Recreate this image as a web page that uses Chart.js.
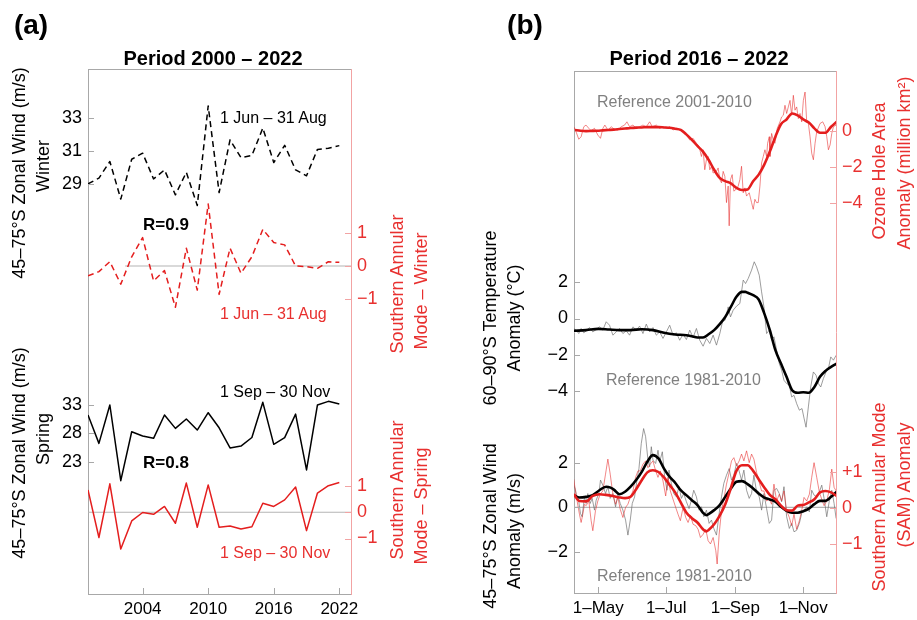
<!DOCTYPE html>
<html><head><meta charset="utf-8">
<script src="https://cdn.jsdelivr.net/npm/chart.js@4.4.1/dist/chart.umd.min.js"></script>
<style>
html,body{margin:0;padding:0;background:#fff}
body{width:917px;height:620px;position:relative;overflow:hidden;font-family:"Liberation Sans",Arial,sans-serif}
canvas{position:absolute;top:0}
.t{position:absolute;white-space:nowrap;line-height:1}
.c{transform:translate(-50%,-50%)}
.l{transform:translate(0,-50%)}
.r{transform:translate(-50%,-50%) rotate(-90deg)}
</style></head><body>
<canvas id="ca" width="458" height="620" style="left:0"></canvas>
<canvas id="cb" width="459" height="620" style="left:458px"></canvas>
<div id="txt"></div>
<script>
// ---------------- Panel (a) data ----------------
const years = [1999,2000,2001,2002,2003,2004,2005,2006,2007,2008,2009,2010,2011,2012,2013,2014,2015,2016,2017,2018,2019,2020,2021,2022];
const windWinter = [29.0,29.35,30.36,28.07,30.5,30.87,29.3,29.85,28.33,29.7,27.68,33.75,28.47,31.68,30.6,30.73,32.4,30.3,31.35,29.85,29.49,31.1,31.17,31.33];
const samWinter = [-0.30,-0.17,0.13,-0.55,0.28,0.86,-0.45,-0.14,-1.25,0.54,-0.73,1.88,-0.86,0.54,-0.22,0.28,1.11,0.71,0.64,0.0,-0.02,-0.07,0.13,0.11];
const windSpring = [31.25,26.27,33.0,19.73,28.3,27.56,27.15,31.25,28.9,30.54,28.6,31.65,29.0,25.46,25.8,27.3,33.47,26.1,27.27,31.4,21.6,33.0,33.64,33.18];
const samSpring = [0.85,-0.96,1.08,-1.40,-0.33,-0.01,-0.08,0.22,-0.42,1.11,-0.57,1.04,-0.57,-0.52,-0.64,-0.55,0.34,0.22,0.47,0.96,-0.70,0.73,1.01,1.13];
const yearTicks = [2004,2010,2016,2022];
const windWinterTicks = [29,31,33];
const windSpringTicks = [23,28,33];
const samTicksA = [-1,0,1];

// ---------------- Panel (b) data (day of year) ----------------
const ozoneSmoothDays = [100,105,110,115,120,125,130,135,140,145,150,155,160,165,170,175,180,185,190,195,200,205,210,215,220,225,230,235,240,245,250,255,260,265,270,275,280,285,290,295,300,305,310,315,320,325,330,335];
const ozoneSmooth = [0.04,0.0,-0.02,-0.01,0.0,0.02,0.04,0.06,0.09,0.12,0.15,0.17,0.18,0.2,0.2,0.2,0.18,0.16,0.11,0.05,-0.2,-0.5,-0.84,-1.15,-1.6,-2.15,-2.6,-2.78,-2.9,-3.15,-3.27,-3.24,-2.78,-2.42,-1.87,-1.15,-0.33,0.36,0.62,0.95,0.85,0.62,0.45,0.13,-0.11,-0.11,0.22,0.49];
const ozoneDailyDays = [99,101,103.5,105.6,108,110,112.5,114.6,117.6,120.6,123,125.1,126.9,129.6,132.6,135.6,138.6,141.6,144.6,146.7,149.1,152.1,155.1,158.1,161.1,164.1,167.1,169.5,173.1,176.1,179.1,182.1,185.1,188.1,191.1,194.1,197.1,200.1,203.1,206.1,209.1,211.5,213.6,215.1,216.6,218.1,219.6,221.1,222.6,224.1,227.1,228.6,230.1,231.6,233.1,234.6,236.1,237.6,238.5,239.7,241.2,242.7,244.5,246.6,248.1,249.6,251.1,252.6,254.1,256.5,258.6,260.1,261.6,263.1,264.6,266.1,267.6,269.1,270.6,272.1,273,274.5,275.1,276.6,278.1,279.6,281.7,284.1,285.6,287.1,288.6,290.1,291.6,293.1,294.6,296.1,297.6,299.1,300.6,302.1,303.6,305.1,306.6,308.1,309.6,311.1,312.6,314.1,315.6,317.1,320.1,322.5,324.6,326.1,327.6,329.1,330.6,332.1,334.5];
const ozoneDaily = [0.22,-0.05,-0.47,-0.33,0.22,0.31,0.13,0,0.13,-0.24,-0.42,0.13,0.31,0.04,0.22,0.07,0.04,0.22,0.31,0.49,0.22,0.31,0.13,0.22,0.31,0.22,0.49,0.22,0.31,0.13,0.22,0.13,0.22,0.04,0.13,0.04,-0.05,-0.24,-0.51,-0.42,-0.69,-0.87,-1.42,-1.05,-2.15,-1.6,-1.42,-2.15,-1.96,-2.33,-2.24,-2.05,-2.69,-2.87,-2.24,-2.51,-3.96,-3.05,-5.24,-2.69,-2.42,-3.33,-3.24,-3.05,-2.69,-1.96,-3.42,-3.15,-3.6,-3.42,-3.96,-4.33,-3.78,-3.96,-3.96,-3.05,-1.78,-1.42,-1.05,-1.42,-0.69,-0.33,-1.42,-0.15,-0.51,-0.69,0.13,0.49,0.76,0.85,1.4,0.95,1.31,1.67,0.85,1.95,1.13,1.31,0.67,0.95,0.49,1.67,2.13,0.49,0.4,-0.33,-1.24,-1.6,-0.69,-0.05,0.4,0.49,0.22,-0.33,-1.05,-0.78,-0.15,0.22,0.31];

const tempSmoothDays = [99,110,121,131,140,150,160,170,180,190,200,205,210,215,220,225,230,235,240,245,250,253,255,260,265,270,275,280,285,290,295,300,305,310,315,320,325,330,335];
const tempSmooth = [-0.68,-0.64,-0.57,-0.61,-0.64,-0.64,-0.59,-0.64,-0.79,-0.88,-0.92,-0.98,-1.05,-1.05,-0.87,-0.64,-0.31,0.09,0.64,1.2,1.47,1.47,1.42,1.29,1.05,0.28,-0.64,-1.75,-2.49,-3.22,-3.96,-4.1,-4.07,-4.1,-3.78,-3.22,-2.89,-2.67,-2.49];
const tempDailyDays = [99,101.1,103.5,105.6,108,110.1,113.1,116.1,119.1,122.1,125.1,128.1,131.1,134.1,137.1,140.1,143.1,146.1,149.1,152.1,155.1,158.1,161.1,164.1,167.1,170.1,173.1,176.1,179.1,182.1,185.1,188.1,191.1,194.1,197.1,200.1,203.1,206.1,209.1,212.1,215.1,218.1,221.1,224.1,227.1,230.1,232.5,234.9,237.6,239.7,242.1,245.1,248.1,251.1,253.2,255.6,258.6,261,263.1,265.5,267.6,269.7,272.1,274.5,276.6,278.7,281.1,283.5,285.6,287.7,290.1,292.5,294.6,296.7,299.1,301.5,303.9,305.7,307.5,309.6,311.7,314.1,316.5,318.6,320.7,323.1,325.5,327.9,329.7,332.1,334.5];
const tempDaily = [-0.55,-0.64,-0.83,-0.55,-0.79,-0.68,-0.50,-0.74,-0.61,-0.46,-0.64,-0.18,-0.37,-0.92,-0.74,-0.55,-0.83,-0.68,-0.92,-0.46,-0.64,-0.42,-0.83,-0.31,-0.74,-0.50,-0.92,-0.74,-1.10,-0.74,-0.37,-0.92,-0.79,-1.20,-0.87,-1.16,-0.64,-1.05,-0.55,-1.20,-1.53,-1.10,-1.38,-0.92,-1.47,-0.83,-0.18,-0.09,0.64,0.09,0.46,0.68,0.83,2.12,1.93,2.21,2.67,3.13,2.85,2.39,1.47,0.64,-0.83,-0.64,-1.20,-1.01,-1.75,-2.49,-2.85,-3.41,-3.59,-3.68,-4.33,-4.24,-4.70,-5.06,-4.97,-5.5,-6.0,-4.88,-3.78,-2.95,-3.13,-3.59,-3.78,-3.31,-2.95,-2.67,-2.12,-2.30,-2.03];

const windSmoothDays = [99,104,110,116,122,128,132,135,140,145,150,155,160,165,170,175,180,185,190,195,200,205,210,215,218,220,225,230,235,240,245,250,255,260,265,270,275,280,285,290,295,300,305,310,315,320,325,330,335];
const windSmooth = [0.56,0.45,0.48,0.56,0.78,0.94,0.9,0.81,0.6,0.71,0.94,1.24,1.61,2.07,2.37,2.22,1.76,1.39,1.12,0.78,0.56,0.33,0.11,-0.24,-0.35,-0.3,-0.12,0.11,0.48,0.86,1.16,1.19,1.06,0.86,0.63,0.45,0.36,0.26,0.03,-0.15,-0.24,-0.24,-0.17,-0.05,0.15,0.3,0.3,0.48,0.71];
const windDailyDays = [99,100.5,101.7,103.5,105,106.5,108.6,110.1,111.6,113.7,115.5,117.6,119.1,121.5,123,125.1,127.5,129.6,131.7,134.1,136.5,138.6,140.7,143.1,145.5,147.6,149.7,151.5,153.6,155.7,157.5,159.6,161.7,163.5,165.6,167.1,168.6,170.1,172.5,174.6,176.1,178.5,180.6,182.7,184.5,186.6,188.7,191.1,193.5,195.6,197.7,200.1,202.5,204.6,206.7,209.1,211.5,213.6,215.7,218.1,220.5,222.6,224.7,227.1,229.5,231.6,233.7,236.1,238.5,240.6,242.7,245.1,247.2,249.6,251.7,254.1,256.5,258.6,260.7,263.1,265.5,267.6,269.7,272.1,274.5,276.6,278.7,281.1,283.5,285.6,287.7,290.1,292.5,294.6,296.7,299.1,301.5,303.6,305.7,308.1,310.5,312.6,314.7,317.1,319.5,321.6,323.7,326.1,328.5,330.6,332.7,334.5];
const windDaily = [1.01,0.81,0.45,0.26,-0.27,-0.42,0.48,0.18,0.63,0.18,0.41,-0.12,0.33,0.63,1.24,1.01,0.63,0.94,0.41,0.63,0.03,0.56,0.18,-0.12,-0.57,-1.25,-0.57,0.18,0.48,1.24,1.76,2.90,3.57,3.20,2.14,1.84,2.75,2.14,1.99,2.59,2.07,2.52,1.39,0.78,1.69,1.09,0.63,0.48,0.94,0.41,0.63,0.26,-0.05,0.33,0.78,0.48,-0.12,0.03,-0.42,-0.12,-0.72,-0.57,-0.95,-1.25,-0.27,0.48,1.09,1.46,1.76,1.24,1.46,1.99,1.69,1.24,1.69,0.78,0.41,0.63,1.46,0.71,0.48,-0.12,0.63,-0.05,-0.72,-0.57,0.78,0.86,0.63,0.26,0.94,-0.42,-0.95,-0.72,-1.10,-1.03,-0.72,-0.27,-0.12,0.03,-0.20,0.78,0.56,0.48,0.71,1.01,0.41,-0.42,0.33,0.78,0.18,-0.50];

const samSmoothDays = [99,104,110,116,122,128,134,140,145,150,155,160,165,170,175,180,185,190,195,200,205,210,215,218,220,225,230,235,240,245,250,255,260,265,270,275,280,285,290,295,300,305,310,315,320,325,330,335];
const samSmooth = [0.39,0.2,0.19,0.34,0.39,0.37,0.34,0.3,0.28,0.32,0.53,0.78,1.0,1.06,1.01,0.86,0.65,0.44,0.16,-0.12,-0.28,-0.4,-0.59,-0.65,-0.61,-0.45,-0.21,0.11,0.56,1.04,1.2,1.2,1.04,0.81,0.58,0.37,0.25,0.07,-0.06,-0.07,0.07,0.09,0.16,0.25,0.44,0.48,0.44,0.34];
const samDailyDays = [99,100.5,102,104.1,105.6,107.1,108.6,110.1,112.5,114.6,116.1,118.5,120.6,122.7,125.1,127.5,129.6,131.7,134.1,136.5,138.6,140.7,143.1,145.5,147.6,149.7,152.1,154.5,156.6,158.7,161.1,163.5,165.6,167.7,170.1,172.5,174.6,176.7,179.1,181.5,183.6,185.7,188.1,190.5,192.6,194.7,197.1,199.5,201.6,203.7,206.1,208.5,210.6,212.7,215.1,217.5,219.6,221.7,224.1,226.5,227.7,229.5,231.6,233.7,236.1,238.5,240.6,242.7,245.1,247.5,249.6,251.7,254.1,256.5,258.6,260.7,263.1,265.5,267.6,269.7,272.1,274.5,276.6,278.7,281.1,283.5,285.6,287.7,290.1,292.5,294.6,296.7,299.1,301.5,303.6,305.7,308.1,310.5,312.6,314.7,317.1,319.5,321.6,323.7,326.1,328.5,330.6,332.7,334.5];
const samDaily = [0.81,0.48,0.20,-0.17,-0.40,-0.17,0.11,0.07,0.20,-0.35,-0.63,-0.07,0.20,0.39,0.48,0.95,1.37,0.95,0.39,0.11,0.30,-0.03,-0.26,0.02,0.11,0.30,0.48,0.86,1.04,1.04,1.23,1.32,1.13,1.23,1.32,1.04,0.86,1.04,0.76,0.34,0.86,0.48,0.25,0.02,-0.17,-0.35,0.02,-0.26,-0.40,-0.21,-0.45,-0.49,-0.59,-0.82,-0.73,-0.59,-0.91,-1.00,-0.82,-1.19,-1.56,-0.73,-0.07,0.25,0.67,1.00,1.32,1.41,1.18,1.32,1.51,1.32,1.60,1.27,1.51,1.37,1.00,0.72,0.48,0.48,0.20,0.25,0.11,0.67,0.20,0.39,0.20,0.48,-0.07,-0.26,-0.49,-0.17,-0.59,-0.35,-0.07,0.30,0.20,0.39,0.86,1.27,0.86,0.44,0.25,0.07,0.20,0.53,1.09,0.58,0.48];

const monthTicks = [121,182,244,305];
const monthLabels = ['1\u2013May','1\u2013Jul','1\u2013Sep','1\u2013Nov'];
const tempTicks = [-4,-2,0,2];
const windTicksB = [-2,0,2];
const ozoneTicks = [-4,-2,0];
const samTicksB = [-1,0,1];

// ---------------- helpers ----------------
const FONT = '"Liberation Sans", Arial, sans-serif';
const RED = '#e41e1e', REDTXT = '#e8302f', REDAX = '#f2a3a3', GRAYAX = '#a8a8a8';
const pts = (xs, ys) => xs.map((x, i) => ({x, y: ys[i]}));
const mapVal = (v, from, to) => to.min + (v - from.min) / (from.max - from.min) * (to.max - to.min);
const fmt = v => v < 0 ? '\u2212' + Math.abs(v) : String(v);
const fmtPlus = v => v > 0 ? '+' + v : fmt(v);

const innerTicks = {
  id: 'innerTicks',
  afterDatasetsDraw(chart) {
    const {ctx, chartArea: a} = chart;
    ctx.save(); ctx.lineWidth = 1;
    Object.values(chart.scales).forEach(s => {
      if (!s.options.display || !s.options.ticks.display) return;
      ctx.strokeStyle = s.options.border.color;
      s.ticks.forEach(t => {
        const p = Math.round(s.getPixelForValue(t.value)) + 0.5;
        ctx.beginPath();
        if (s.position === 'left') { ctx.moveTo(a.left, p); ctx.lineTo(a.left + 6, p); }
        else if (s.position === 'right') { ctx.moveTo(a.right, p); ctx.lineTo(a.right - 6, p); }
        else if (s.position === 'bottom') { ctx.moveTo(p, a.bottom); ctx.lineTo(p, a.bottom - 6); }
        ctx.stroke();
      });
    });
    ctx.restore();
  }
};

function yAxis(pos, range, ticksFn, color, borderColor, width, pad) {
  return {
    type: 'linear', position: pos, min: range.min, max: range.max,
    grid: {display: false, drawTicks: false},
    border: {display: true, color: borderColor, width: 1},
    afterBuildTicks: s => { s.ticks = ticksFn(); },
    afterFit: s => { s.width = width; },
    ticks: {autoSkip: false, padding: pad, color: color, font: {family: FONT, size: 18},
      callback: (v, i, t) => t[i].lbl}
  };
}
function hiddenAxis(pos, range) {
  return {type: 'linear', position: pos, display: false, min: range.min, max: range.max};
}
function xAxis(range, ticksFn, height) {
  return {
    type: 'linear', position: 'bottom', min: range.min, max: range.max,
    grid: {display: false, drawTicks: false},
    border: {display: true, color: GRAYAX, width: 1},
    afterBuildTicks: s => { s.ticks = ticksFn(); },
    afterFit: s => { s.height = height; },
    ticks: {autoSkip: false, maxRotation: 0, padding: 5, color: '#000', font: {family: FONT, size: 17},
      callback: (v, i, t) => t[i].lbl}
  };
}
function topAxis(color) {
  return {type: 'linear', position: 'top', grid: {display: false, drawTicks: false},
    border: {display: true, color: color, width: 1}, ticks: {display: false},
    afterFit: s => { s.height = 0; }};
}
const line = (data, axis, color, width, dash, extra) => Object.assign({
  data, yAxisID: axis, borderColor: color, borderWidth: width, borderDash: dash || [],
  pointRadius: 0, fill: false, tension: 0, borderJoinStyle: 'round'}, extra || {});

const baseOpts = {responsive: false, animation: false, events: [],
  plugins: {legend: {display: false}, tooltip: {enabled: false}}};

// ---------------- Panel (a) chart ----------------
const RA = {
  x: {min: 1999, max: 2023.07},
  wW: {min: 4.0, max: 36.0},
  wS: {min: -0.16, max: 91.95},
  sW: {min: -9.94, max: 5.97},
  sS: {min: -3.11, max: 16.86}
};
new Chart(document.getElementById('ca'), {
  type: 'line',
  data: {datasets: [
    line(pts(years, windWinter), 'yW', '#000', 1.5, [6, 4]),
    line(pts(years, samWinter), 'ySW', RED, 1.5, [6, 4]),
    line(pts(years, windSpring), 'yS', '#000', 1.5),
    line(pts(years, samSpring), 'ySS', RED, 1.5),
    line([{x: 2002.4, y: 0}, {x: RA.x.max, y: 0}], 'ySW', '#b4b4b4', 1.2, [], {order: 5}),
    line([{x: RA.x.min, y: 0}, {x: RA.x.max, y: 0}], 'ySS', '#b4b4b4', 1.2, [], {order: 5})
  ]},
  options: Object.assign({}, baseOpts, {
    layout: {padding: {left: 0, right: 0, top: 69, bottom: 0}},
    scales: {
      x: Object.assign(xAxis(RA.x, () => yearTicks.map(v => ({value: v, lbl: String(v)})), 26), {}),
      xTop: topAxis(GRAYAX),
      yW: yAxis('left', RA.wW, () => windWinterTicks.map(v => ({value: v, lbl: String(v)}))
            .concat(windSpringTicks.map(v => ({value: mapVal(v, RA.wS, RA.wW), lbl: String(v)}))),
            '#000', GRAYAX, 88, 6),
      yS: hiddenAxis('left', RA.wS),
      ySW: yAxis('right', RA.sW, () => samTicksA.map(v => ({value: v, lbl: fmt(v)}))
            .concat(samTicksA.map(v => ({value: mapVal(v, RA.sS, RA.sW), lbl: fmt(v)}))),
            REDTXT, REDAX, 107, 6),
      ySS: hiddenAxis('right', RA.sS)
    }
  }),
  plugins: [innerTicks]
});

// ---------------- Panel (b) chart ----------------
const RB = {
  x: {min: 99.2, max: 334.4},
  oz: {min: -25.47, max: 3.29},
  tp: {min: -15.15, max: 13.66},
  wd: {min: -3.87, max: 19.75},
  sm: {min: -2.37, max: 12.21}
};
const smooth = {tension: 0.4, cubicInterpolationMode: 'monotone'};
new Chart(document.getElementById('cb'), {
  type: 'line',
  data: {datasets: [
    line(pts(ozoneSmoothDays, ozoneSmooth), 'yO', RED, 2.6, [], Object.assign({order: 1}, smooth)),
    line(pts(ozoneDailyDays, ozoneDaily), 'yO', 'rgba(230,40,40,0.7)', 0.8, [], {order: 4}),
    line(pts(tempSmoothDays, tempSmooth), 'yT', '#000', 2.6, [], Object.assign({order: 1}, smooth)),
    line(pts(tempDailyDays, tempDaily), 'yT', 'rgba(110,110,110,0.85)', 0.8, [], {order: 4}),
    line(pts(samSmoothDays, samSmooth), 'ySm', RED, 2.6, [], Object.assign({order: 0}, smooth)),
    line(pts(windSmoothDays, windSmooth), 'yWd', '#000', 2.6, [], Object.assign({order: 1}, smooth)),
    line(pts(samDailyDays, samDaily), 'ySm', 'rgba(230,40,40,0.7)', 0.8, [], {order: 3}),
    line(pts(windDailyDays, windDaily), 'yWd', 'rgba(110,110,110,0.85)', 0.8, [], {order: 4}),
    line([{x: RB.x.min, y: 0}, {x: RB.x.max, y: 0}], 'yWd', '#b4b4b4', 1.2, [], {order: 6})
  ]},
  options: Object.assign({}, baseOpts, {
    layout: {padding: {left: 0, right: 0, top: 71, bottom: 0}},
    scales: {
      x: xAxis(RB.x, () => monthTicks.map((v, i) => ({value: v, lbl: monthLabels[i]})), 27),
      xTop: topAxis(GRAYAX),
      yT: yAxis('left', RB.tp, () => tempTicks.map(v => ({value: v, lbl: fmt(v)}))
            .concat(windTicksB.map(v => ({value: mapVal(v, RB.wd, RB.tp), lbl: fmt(v)}))),
            '#000', GRAYAX, 116, 6),
      yWd: hiddenAxis('left', RB.wd),
      yO: yAxis('right', RB.oz, () => ozoneTicks.map(v => ({value: v, lbl: fmt(v)}))
            .concat(samTicksB.map(v => ({value: mapVal(v, RB.sm, RB.oz), lbl: fmtPlus(v)}))),
            REDTXT, REDAX, 81, 6),
      ySm: hiddenAxis('right', RB.sm)
    }
  }),
  plugins: [innerTicks]
});

// ---------------- text ----------------
const texts = [
  ['(a)', 31, 25, 'c', 28, true, '#000'],
  ['Period 2000 \u2013 2022', 213, 58, 'c', 20, true, '#000'],
  ['45\u201375\u00b0S Zonal Wind (m/s)', 19, 173, 'r', 18, false, '#000'],
  ['Winter', 43, 166, 'r', 18, false, '#000'],
  ['45\u201375\u00b0S Zonal Wind (m/s)', 19, 453, 'r', 18, false, '#000'],
  ['Spring', 43, 439, 'r', 18, false, '#000'],
  ['Southern Annular', 397, 284, 'r', 18, false, REDTXT],
  ['Mode \u2013 Winter', 421, 291, 'r', 18, false, REDTXT],
  ['Southern Annular', 397, 490, 'r', 18, false, REDTXT],
  ['Mode \u2013 Spring', 421, 506, 'r', 18, false, REDTXT],
  ['1 Jun \u2013 31 Aug', 220, 118, 'l', 16, false, '#000'],
  ['R=0.9', 143, 224, 'l', 17, true, '#000'],
  ['1 Jun \u2013 31 Aug', 220, 314, 'l', 16, false, REDTXT],
  ['1 Sep \u2013 30 Nov', 220, 392, 'l', 16, false, '#000'],
  ['R=0.8', 143, 462, 'l', 17, true, '#000'],
  ['1 Sep \u2013 30 Nov', 220, 553, 'l', 16, false, REDTXT],
  ['(b)', 525, 25, 'c', 28, true, '#000'],
  ['Period 2016 \u2013 2022', 699, 58, 'c', 20, true, '#000'],
  ['60\u201390\u00b0S Temperature', 490, 318, 'r', 18, false, '#000'],
  ['Anomaly (\u00b0C)', 514, 318, 'r', 18, false, '#000'],
  ['45\u201375\u00b0S Zonal Wind', 490, 526, 'r', 18, false, '#000'],
  ['Anomaly (m/s)', 514, 531, 'r', 18, false, '#000'],
  ['Ozone Hole Area', 879, 171, 'r', 18, false, REDTXT],
  ['Anomaly (million km\u00b2)', 904, 163, 'r', 18, false, REDTXT],
  ['Southern Annular Mode', 879, 497, 'r', 18, false, REDTXT],
  ['(SAM) Anomaly', 904, 485, 'r', 18, false, REDTXT],
  ['Reference 2001-2010', 597, 102, 'l', 16, false, '#808080'],
  ['Reference 1981-2010', 606, 380, 'l', 16, false, '#808080'],
  ['Reference 1981-2010', 597, 576, 'l', 16, false, '#808080']
];
const box = document.getElementById('txt');
texts.forEach(([t, x, y, cls, size, bold, color]) => {
  const d = document.createElement('div');
  d.className = 't ' + cls;
  d.textContent = t;
  d.style.left = x + 'px'; d.style.top = y + 'px';
  d.style.fontSize = size + 'px'; d.style.fontWeight = bold ? 'bold' : 'normal';
  d.style.color = color;
  box.appendChild(d);
});
</script>
</body></html>
